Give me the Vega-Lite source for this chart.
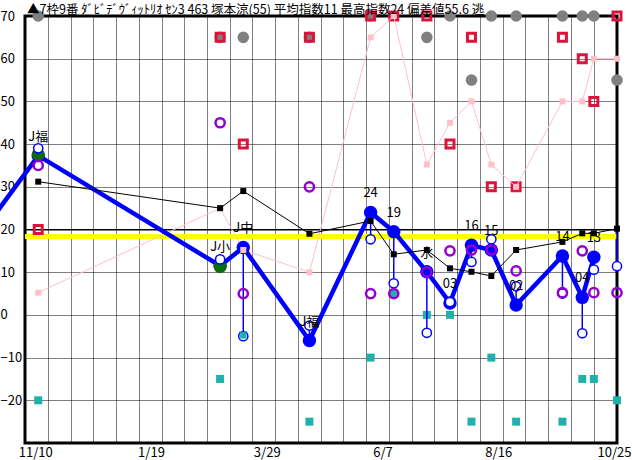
{
  "$schema": "https://vega.github.io/schema/vega-lite/v6.json",
  "width": 592,
  "height": 427,
  "autosize": {"type": "none"},
  "padding": {"left": 25, "top": 16, "right": 15, "bottom": 17},
  "background": "white",
  "title": {
    "text": "▲7枠9番 ﾀﾞﾋﾞﾃﾞｳﾞｨｯﾄﾘｵ ｾﾝ3 463 塚本涼(55) 平均指数11 最高指数24 偏差値55.6 逃",
    "anchor": "start",
    "frame": "group",
    "offset": 2,
    "dx": 2,
    "dy": 12,
    "fontSize": 12.5,
    "fontWeight": "normal",
    "font": "Noto Sans CJK JP",
    "color": "black"
  },
  "config": {
    "view": {"stroke": "black", "strokeWidth": 3},
    "font": "Noto Sans CJK JP",
    "axis": {"title": null, "ticks": false, "domain": false, "labelColor": "black", "labelFont": "Noto Sans CJK JP", "labelFontSize": 13, "gridColor": "black", "gridDash": [1, 1], "gridOpacity": 1, "gridWidth": 1}
  },
  "resolve": {"axis": {"x": "independent"}},
  "data": {
    "values": [
      {"no": 0, "date": "2023/10/15", "main": 23.6},
      {"no": 1, "date": "2023/11/10", "main": 37.3, "stem": 37.3, "hollow": 39, "purple": 35, "black": 31.2, "pink": 5.2, "crimson": 20, "teal": -20, "gray": 70, "green": 37.6, "label": "J福"},
      {"no": 2, "date": "2024/02/28", "main": 11.5, "stem": 11.5, "hollow": 13, "purple": 45, "black": 25, "pink": 25, "crimson": 65, "teal": -15, "gray": 65, "green": 11.3, "label": "J小"},
      {"no": 3, "date": "2024/03/13", "main": 15.8, "stem": 15.8, "hollow": -5, "purple": 5, "black": 29, "pink": 15.2, "crimson": 40, "teal": -4.8, "gray": 65, "label": "J中"},
      {"no": 4, "date": "2024/04/22", "main": -6, "stem": -6, "hollow": -2.5, "purple": 30, "black": 19, "pink": 10, "crimson": 65, "teal": -25, "gray": 65, "label": "J福"},
      {"no": 5, "date": "2024/05/29", "main": 24, "stem": 24, "hollow": 17.7, "purple": 5, "black": 22, "pink": 65, "crimson": 70, "teal": -10, "gray": 70, "label": "24"},
      {"no": 6, "date": "2024/06/12", "main": 19.5, "stem": 19.5, "hollow": 7.4, "purple": 5, "black": 14.2, "pink": 70, "crimson": 70, "teal": 5, "label": "19"},
      {"no": 7, "date": "2024/07/02", "main": 10.1, "stem": 10.1, "hollow": -4.2, "purple": 10, "black": 15.2, "pink": 35.2, "crimson": 70, "teal": 0, "gray": 65, "label": "水"},
      {"no": 8, "date": "2024/07/16", "main": 2.8, "stem": 2.8, "hollow": 3, "purple": 15, "black": 10.9, "pink": 45, "crimson": 40, "teal": 0, "gray": 70, "label": "03"},
      {"no": 9, "date": "2024/07/29", "main": 16.3, "stem": 16.3, "hollow": 12.4, "purple": 15.2, "black": 10.1, "pink": 50, "crimson": 65, "teal": -25, "gray": 55, "label": "16"},
      {"no": 10, "date": "2024/08/10", "main": 15.2, "stem": 15.2, "hollow": 17.7, "purple": 15.2, "black": 9.1, "pink": 35.2, "crimson": 30, "teal": -10, "gray": 70, "label": "15"},
      {"no": 11, "date": "2024/08/25", "main": 2.3, "stem": 2.3, "hollow": 6.7, "purple": 10.3, "black": 15.2, "pink": 30, "crimson": 30, "teal": -25, "gray": 70, "label": "02"},
      {"no": 12, "date": "2024/09/22", "main": 13.8, "stem": 13.8, "hollow": 5, "purple": 5.2, "black": 17.1, "pink": 50, "crimson": 65, "teal": -25, "gray": 70, "label": "14"},
      {"no": 13, "date": "2024/10/04", "main": 4.1, "stem": 4.1, "hollow": -4.3, "purple": 15, "black": 19.1, "pink": 50, "crimson": 60, "teal": -15, "gray": 70, "label": "04"},
      {"no": 14, "date": "2024/10/11", "main": 13.5, "stem": 13.5, "hollow": 10.6, "purple": 5.2, "black": 19.1, "pink": 60, "crimson": 50, "teal": -15, "gray": 70, "label": "13"},
      {"no": 15, "date": "2024/10/25", "stem": 20.2, "hollow": 11.4, "purple": 5.2, "black": 20.2, "pink": 60, "crimson": 70, "teal": -20, "gray": 55}
    ]
  },
  "layer": [
    {
      "mark": {"type": "circle", "color": "#808080", "opacity": 1, "size": 135},
      "encoding": {
        "x": {
          "field": "date", "type": "temporal", "title": null,
          "scale": {"domain": [{"year": 2023, "month": 11, "date": 2}, {"year": 2024, "month": 10, "date": 25}]},
          "axis": {
            "orient": "bottom",
            "values": [
              {"year": 2023, "month": 11, "date": 15, "hours": 21, "minutes": 49},
              {"year": 2023, "month": 11, "date": 29, "hours": 19, "minutes": 37},
              {"year": 2023, "month": 12, "date": 13, "hours": 2, "minutes": 55},
              {"year": 2023, "month": 12, "date": 27, "hours": 0, "minutes": 44},
              {"year": 2024, "month": 1, "date": 9, "hours": 22, "minutes": 32},
              {"year": 2024, "month": 1, "date": 23, "hours": 20, "minutes": 21},
              {"year": 2024, "month": 2, "date": 6, "hours": 3, "minutes": 39},
              {"year": 2024, "month": 2, "date": 20, "hours": 1, "minutes": 28},
              {"year": 2024, "month": 3, "date": 4, "hours": 23, "minutes": 16},
              {"year": 2024, "month": 3, "date": 18, "hours": 6, "minutes": 34},
              {"year": 2024, "month": 4, "date": 1, "hours": 4, "minutes": 23},
              {"year": 2024, "month": 4, "date": 15, "hours": 2, "minutes": 11},
              {"year": 2024, "month": 4, "date": 29, "hours": 0, "minutes": 0},
              {"year": 2024, "month": 5, "date": 12, "hours": 7, "minutes": 18},
              {"year": 2024, "month": 5, "date": 26, "hours": 5, "minutes": 6},
              {"year": 2024, "month": 6, "date": 9, "hours": 2, "minutes": 55},
              {"year": 2024, "month": 6, "date": 23, "hours": 0, "minutes": 44},
              {"year": 2024, "month": 7, "date": 6, "hours": 8, "minutes": 2},
              {"year": 2024, "month": 7, "date": 20, "hours": 5, "minutes": 50},
              {"year": 2024, "month": 8, "date": 3, "hours": 3, "minutes": 39},
              {"year": 2024, "month": 8, "date": 17, "hours": 1, "minutes": 28},
              {"year": 2024, "month": 8, "date": 30, "hours": 8, "minutes": 45},
              {"year": 2024, "month": 9, "date": 13, "hours": 6, "minutes": 34},
              {"year": 2024, "month": 9, "date": 27, "hours": 4, "minutes": 23},
              {"year": 2024, "month": 10, "date": 11, "hours": 2, "minutes": 11}
            ],
            "grid": true,
            "labels": false
          }
        },
        "y": {
          "field": "gray", "type": "quantitative", "title": null,
          "scale": {"domain": [-30, 70], "nice": false, "zero": false},
          "axis": {
            "values": [-20, -10, 0, 10, 20, 30, 40, 50, 60, 70],
            "grid": true,
            "labelAlign": "left",
            "labelBaseline": "middle",
            "labelPadding": 25,
            "labelBound": false,
            "labelFlush": false
          }
        }
      }
    },
    {
      "mark": {"type": "rule", "color": "#ffff00", "strokeWidth": 4},
      "encoding": {"y": {"datum": 18.3, "type": "quantitative", "title": null}}
    },
    {
      "mark": {"type": "rule", "color": "black", "strokeWidth": 1},
      "encoding": {"y": {"datum": 20, "type": "quantitative", "title": null}}
    },
    {
      "mark": {"type": "square", "filled": false, "color": "#dc143c", "strokeWidth": 3, "size": 64, "opacity": 1},
      "encoding": {
        "x": {
          "field": "date", "type": "temporal", "title": null,
          "axis": {
            "orient": "bottom",
            "values": [
              {"year": 2023, "month": 11, "date": 10},
              {"year": 2024, "month": 1, "date": 19},
              {"year": 2024, "month": 3, "date": 29},
              {"year": 2024, "month": 6, "date": 7},
              {"year": 2024, "month": 8, "date": 16},
              {"year": 2024, "month": 10, "date": 25}
            ],
            "format": "%-m/%-d",
            "grid": false,
            "labelOverlap": false,
            "labelBound": false,
            "labelFlush": false,
            "labelOffset": -3,
            "labelPadding": 3
          }
        },
        "y": {"field": "crimson", "type": "quantitative", "title": null}
      }
    },
    {
      "mark": {"type": "line", "color": "#ffc0cb", "strokeWidth": 1},
      "encoding": {
        "x": {"field": "date", "type": "temporal", "axis": null},
        "y": {"field": "pink", "type": "quantitative", "title": null}
      }
    },
    {
      "mark": {"type": "square", "filled": true, "color": "#20b2aa", "size": 64, "opacity": 1},
      "encoding": {
        "x": {"field": "date", "type": "temporal", "axis": null},
        "y": {"field": "teal", "type": "quantitative", "title": null}
      }
    },
    {
      "mark": {"type": "line", "color": "#0000ff", "strokeWidth": 4.5, "clip": false},
      "encoding": {
        "x": {"field": "date", "type": "temporal", "axis": null},
        "y": {"field": "main", "type": "quantitative", "title": null}
      }
    },
    {
      "transform": [{"filter": "datum.no > 0"}],
      "mark": {"type": "rule", "color": "#0000ff", "strokeWidth": 1.5},
      "encoding": {
        "x": {"field": "date", "type": "temporal", "axis": null},
        "y": {"field": "stem", "type": "quantitative", "title": null},
        "y2": {"field": "hollow"}
      }
    },
    {
      "transform": [{"filter": "datum.no > 0"}],
      "mark": {"type": "circle", "color": "#0000ff", "size": 180, "opacity": 1},
      "encoding": {
        "x": {"field": "date", "type": "temporal", "axis": null},
        "y": {"field": "main", "type": "quantitative", "title": null}
      }
    },
    {
      "mark": {"type": "circle", "color": "#0b6e0b", "size": 165, "opacity": 1},
      "encoding": {
        "x": {"field": "date", "type": "temporal", "axis": null},
        "y": {"field": "green", "type": "quantitative", "title": null}
      }
    },
    {
      "mark": {"type": "point", "shape": "circle", "filled": false, "fill": "white", "fillOpacity": 1, "stroke": "#0000ff", "strokeWidth": 1.5, "size": 85, "opacity": 1},
      "encoding": {
        "x": {"field": "date", "type": "temporal", "axis": null},
        "y": {"field": "hollow", "type": "quantitative", "title": null}
      }
    },
    {
      "transform": [{"filter": "datum.no == 3 || datum.no == 6"}],
      "mark": {"type": "square", "filled": true, "color": "#20b2aa", "size": 40, "opacity": 1},
      "encoding": {
        "x": {"field": "date", "type": "temporal", "axis": null},
        "y": {"field": "teal", "type": "quantitative", "title": null}
      }
    },
    {
      "mark": {"type": "point", "shape": "circle", "filled": false, "color": "#9400d3", "strokeWidth": 2.5, "size": 85, "opacity": 1},
      "encoding": {
        "x": {"field": "date", "type": "temporal", "axis": null},
        "y": {"field": "purple", "type": "quantitative", "title": null}
      }
    },
    {
      "mark": {"type": "square", "filled": true, "color": "#ffc0cb", "size": 36, "opacity": 1},
      "encoding": {
        "x": {"field": "date", "type": "temporal", "axis": null},
        "y": {"field": "pink", "type": "quantitative", "title": null}
      }
    },
    {
      "mark": {"type": "line", "color": "black", "strokeWidth": 1},
      "encoding": {
        "x": {"field": "date", "type": "temporal", "axis": null},
        "y": {"field": "black", "type": "quantitative", "title": null}
      }
    },
    {
      "mark": {"type": "square", "filled": true, "color": "black", "size": 36, "opacity": 1},
      "encoding": {
        "x": {"field": "date", "type": "temporal", "axis": null},
        "y": {"field": "black", "type": "quantitative", "title": null}
      }
    },
    {
      "transform": [{"filter": "datum.no > 0"}],
      "mark": {"type": "text", "color": "black", "fontSize": 13, "font": "Noto Sans CJK JP", "dy": -19, "align": "center", "baseline": "middle"},
      "encoding": {
        "x": {"field": "date", "type": "temporal", "axis": null},
        "y": {"field": "main", "type": "quantitative", "title": null},
        "text": {"field": "label"}
      }
    }
  ]
}
